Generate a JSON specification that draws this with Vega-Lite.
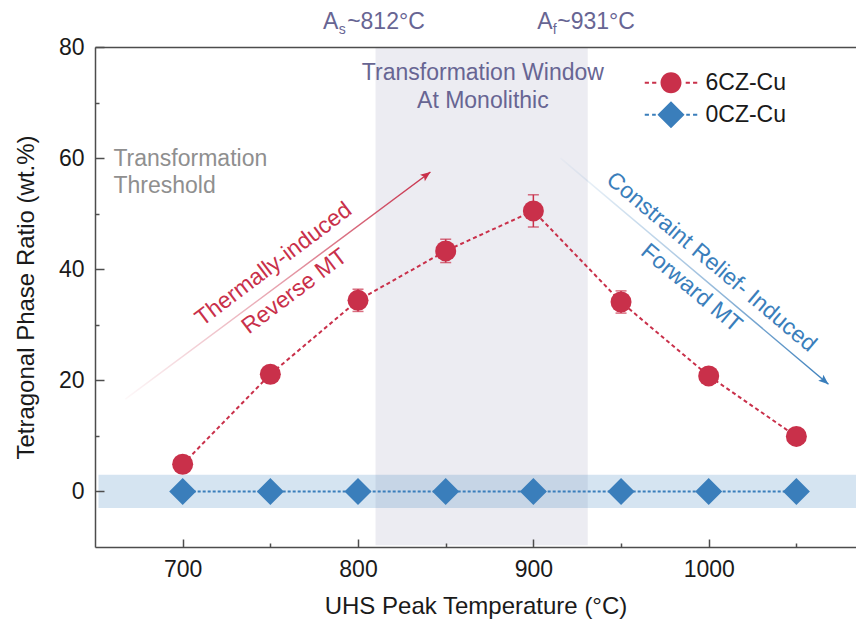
{
  "$schema": "https://vega.github.io/schema/vega-lite/v6.json",
  "width": 761,
  "height": 500,
  "autosize": {"type": "none"},
  "padding": {"left": 95, "top": 47, "right": 0, "bottom": 83},
  "background": "white",
  "config": {
    "view": {"stroke": null},
    "font": "Liberation Sans",
    "axis": {"domainColor": "#4d4d4d", "tickColor": "#4d4d4d", "domainWidth": 1.5, "tickWidth": 1.5, "labelColor": "#1a1a1a", "titleColor": "#1a1a1a", "labelFontSize": 23, "titleFontSize": 24, "titleFontWeight": "normal", "grid": false, "zindex": 1}
  },
  "datasets": {
    "pts": [
      {"series": "6CZ-Cu", "T": 700, "v": 4.9, "lo": 4.1, "hi": 5.7},
      {"series": "6CZ-Cu", "T": 750, "v": 21.1, "lo": 19.9, "hi": 22.3},
      {"series": "6CZ-Cu", "T": 800, "v": 34.4, "lo": 32.4, "hi": 36.4},
      {"series": "6CZ-Cu", "T": 850, "v": 43.3, "lo": 41.2, "hi": 45.4},
      {"series": "6CZ-Cu", "T": 900, "v": 50.5, "lo": 47.6, "hi": 53.4},
      {"series": "6CZ-Cu", "T": 950, "v": 34.1, "lo": 32.1, "hi": 36.1},
      {"series": "6CZ-Cu", "T": 1000, "v": 20.8, "lo": 19.8, "hi": 21.8},
      {"series": "6CZ-Cu", "T": 1050, "v": 9.9, "lo": 9.1, "hi": 10.7},
      {"series": "0CZ-Cu", "T": 700, "v": 0, "lo": 0, "hi": 0},
      {"series": "0CZ-Cu", "T": 750, "v": 0, "lo": 0, "hi": 0},
      {"series": "0CZ-Cu", "T": 800, "v": 0, "lo": 0, "hi": 0},
      {"series": "0CZ-Cu", "T": 850, "v": 0, "lo": 0, "hi": 0},
      {"series": "0CZ-Cu", "T": 900, "v": 0, "lo": 0, "hi": 0},
      {"series": "0CZ-Cu", "T": 950, "v": 0, "lo": 0, "hi": 0},
      {"series": "0CZ-Cu", "T": 1000, "v": 0, "lo": 0, "hi": 0},
      {"series": "0CZ-Cu", "T": 1050, "v": 0, "lo": 0, "hi": 0}
    ],
    "window": [{"x": 810, "x2": 931, "y": -9.7, "y2": 80}],
    "band": [{"x": 652, "x2": 1084, "y": -3, "y2": 3}],
    "arrowR": [{"x": 667.3, "y": 16.6}, {"x": 841.3, "y": 57.5}],
    "arrowB": [{"x": 915.5, "y": 60.0}, {"x": 1068.3, "y": 19.3}],
    "headR": [{"x": 841.3, "y": 57.5}],
    "headB": [{"x": 1068.3, "y": 19.3}],
    "winText": [{"x": 871.2, "y": 74.1, "t": "Transformation Window"}, {"x": 871.2, "y": 69.0, "t": "At Monolithic"}],
    "thrText": [{"x": 660.5, "y": 58.6, "t": "Transformation"}, {"x": 660.5, "y": 53.7, "t": "Threshold"}],
    "redText": [{"x": 751.8, "y": 40.9, "t": "Thermally-induced"}, {"x": 763.8, "y": 36.0, "t": "Reverse MT"}],
    "blueText": [{"x": 1001.5, "y": 41.3, "t": "Constraint Relief- Induced"}, {"x": 990.1, "y": 36.6, "t": "Forward MT"}],
    "topBig": [{"x": 780.1, "y": 83.2, "t": "A"}, {"x": 793.8, "y": 83.2, "t": "~812°C"}, {"x": 902.2, "y": 83.2, "t": "A"}, {"x": 913.6, "y": 83.2, "t": "~931°C"}],
    "topSub": [{"x": 789.0, "y": 82.4, "t": "s"}, {"x": 911.0, "y": 82.4, "t": "f"}]
  },
  "resolve": {"axis": {"x": "independent", "y": "independent"}},
  "layer": [
    {
      "data": {"name": "window"},
      "mark": {"type": "rect", "color": "#ececf2"},
      "encoding": {
        "x": {"field": "x", "type": "quantitative", "scale": {"domain": [650, 1084], "nice": false, "zero": false},
              "axis": {"orient": "bottom", "zindex": 1, "values": [700, 800, 900, 1000], "format": "d", "ticks": false, "labelPadding": 11, "title": "UHS Peak Temperature (°C)", "titlePadding": 13}},
        "x2": {"field": "x2"},
        "y": {"field": "y", "type": "quantitative", "scale": {"domain": [-10, 80], "nice": false, "zero": false},
              "axis": {"orient": "left", "zindex": 1, "values": [0, 20, 40, 60, 80], "format": "d", "ticks": false, "labelPadding": 11, "title": "Tetragonal Phase Ratio (wt.%)", "titlePadding": 20}},
        "y2": {"field": "y2"}
      }
    },
    {
      "data": {"name": "band"},
      "mark": {"type": "rect", "color": "#3a7fbb", "opacity": 0.21},
      "encoding": {
        "x": {"field": "x", "type": "quantitative", "axis": {"orient": "bottom", "zindex": 1, "values": [700, 800, 900, 1000], "tickSize": 8, "offset": -8, "labels": false, "domain": false, "title": null}},
        "x2": {"field": "x2"},
        "y": {"field": "y", "type": "quantitative", "axis": {"orient": "left", "zindex": 1, "values": [0, 20, 40, 60, 80], "tickSize": 9, "offset": -9, "labels": false, "domain": false, "title": null}},
        "y2": {"field": "y2"}
      }
    },
    {
      "mark": {"type": "rule", "color": "#a3a3a3", "strokeDash": [5, 3], "strokeWidth": 1.5},
      "encoding": {"y": {"datum": 51, "type": "quantitative", "axis": null}}
    },
    {
      "data": {"name": "pts"},
      "transform": [{"filter": "datum.series === '6CZ-Cu'"}],
      "mark": {"type": "line", "color": "#c9304a", "strokeDash": [4, 3], "strokeWidth": 2},
      "encoding": {
        "x": {"field": "T", "type": "quantitative", "axis": {"orient": "top", "zindex": 1, "ticks": false, "labels": false, "domain": true, "title": null}},
        "y": {"field": "v", "type": "quantitative", "axis": {"orient": "left", "zindex": 1, "values": [10, 30, 50, 70], "tickSize": 4, "offset": -4, "labels": false, "domain": false, "title": null}}
      }
    },
    {
      "data": {"name": "pts"},
      "transform": [{"filter": "datum.series === '0CZ-Cu'"}],
      "mark": {"type": "line", "color": "#3a7ebb", "strokeDash": [3, 2], "strokeWidth": 2},
      "encoding": {
        "x": {"field": "T", "type": "quantitative", "axis": {"orient": "bottom", "zindex": 1, "values": [750, 850, 950, 1050], "tickSize": 4, "offset": -4, "labels": false, "domain": false, "title": null}},
        "y": {"field": "v", "type": "quantitative", "axis": null}
      }
    },
    {
      "data": {"name": "arrowR"},
      "mark": {"type": "line", "strokeWidth": 1.5, "stroke": {"gradient": "linear", "x1": 0, "y1": 1, "x2": 1, "y2": 0, "stops": [{"offset": 0, "color": "rgba(201,48,74,0.03)"}, {"offset": 0.5, "color": "rgba(201,48,74,0.45)"}, {"offset": 1, "color": "rgba(201,48,74,1)"}]}},
      "encoding": {
        "x": {"field": "x", "type": "quantitative", "axis": null},
        "y": {"field": "y", "type": "quantitative", "axis": null}
      }
    },
    {
      "data": {"name": "arrowB"},
      "mark": {"type": "line", "strokeWidth": 1.5, "stroke": {"gradient": "linear", "x1": 0, "y1": 0, "x2": 1, "y2": 1, "stops": [{"offset": 0, "color": "rgba(58,126,187,0.03)"}, {"offset": 0.5, "color": "rgba(58,126,187,0.45)"}, {"offset": 1, "color": "rgba(58,126,187,1)"}]}},
      "encoding": {
        "x": {"field": "x", "type": "quantitative", "axis": null},
        "y": {"field": "y", "type": "quantitative", "axis": null}
      }
    },
    {
      "data": {"name": "headR"},
      "mark": {"type": "point", "filled": true, "opacity": 1, "color": "#c9304a", "size": 64, "angle": 53, "shape": "M0,0 L1,2.5 L0,2 L-1,2.5 Z"},
      "encoding": {
        "x": {"field": "x", "type": "quantitative", "axis": null},
        "y": {"field": "y", "type": "quantitative", "axis": null}
      }
    },
    {
      "data": {"name": "headB"},
      "mark": {"type": "point", "filled": true, "opacity": 1, "color": "#3a7ebb", "size": 64, "angle": 130, "shape": "M0,0 L1,2.5 L0,2 L-1,2.5 Z"},
      "encoding": {
        "x": {"field": "x", "type": "quantitative", "axis": null},
        "y": {"field": "y", "type": "quantitative", "axis": null}
      }
    },
    {
      "data": {"name": "pts"},
      "transform": [{"filter": "datum.series === '6CZ-Cu'"}],
      "mark": {"type": "errorbar", "color": "#c9304a", "thickness": 1.5, "ticks": {"size": 11, "thickness": 1.5, "color": "#c9304a"}},
      "encoding": {
        "x": {"field": "T", "type": "quantitative", "axis": null},
        "y": {"field": "lo", "type": "quantitative", "axis": null},
        "y2": {"field": "hi"}
      }
    },
    {
      "data": {"name": "pts"},
      "transform": [{"filter": "datum.series === '6CZ-Cu'"}],
      "mark": {"type": "point", "shape": "circle", "filled": true, "opacity": 1, "color": "#c9304a", "size": 441},
      "encoding": {
        "x": {"field": "T", "type": "quantitative", "axis": null},
        "y": {"field": "v", "type": "quantitative", "axis": null}
      }
    },
    {
      "data": {"name": "pts"},
      "transform": [{"filter": "datum.series === '0CZ-Cu'"}],
      "mark": {"type": "point", "shape": "diamond", "filled": true, "opacity": 1, "color": "#3a7ebb", "size": 729},
      "encoding": {
        "x": {"field": "T", "type": "quantitative", "axis": null},
        "y": {"field": "v", "type": "quantitative", "axis": null}
      }
    },
    {
      "data": {"name": "pts"},
      "mark": {"type": "point", "filled": true, "opacity": 0},
      "encoding": {
        "x": {"field": "T", "type": "quantitative", "axis": null},
        "y": {"field": "v", "type": "quantitative", "axis": null},
        "color": {"field": "series", "type": "nominal",
                  "scale": {"domain": ["6CZ-Cu", "0CZ-Cu"], "range": ["#c9304a", "#3a7ebb"]},
                  "legend": {"orient": "none", "legendX": 564.5, "legendY": 24.3, "title": null, "padding": 0, "symbolSize": 441, "symbolOpacity": 1, "symbolStrokeWidth": 0, "labelFontSize": 23, "labelColor": "#1a1a1a", "labelOffset": 23, "rowPadding": 5, "labelFont": "Liberation Sans"}},
        "shape": {"field": "series", "type": "nominal",
                  "scale": {"domain": ["6CZ-Cu", "0CZ-Cu"], "range": [
                    "M-1,0 A1,1 0 1,0 1,0 A1,1 0 1,0 -1,0 Z M-2.5,-0.09 H-2.1 V0.09 H-2.5 Z M-1.8,-0.09 H-1.4 V0.09 H-1.8 Z M1.4,-0.09 H1.8 V0.09 H1.4 Z M2.1,-0.09 H2.5 V0.09 H2.1 Z",
                    "M0,-1.29 L1.29,0 L0,1.29 L-1.29,0 Z M-2.5,-0.09 H-2.1 V0.09 H-2.5 Z M-1.8,-0.09 H-1.45 V0.09 H-1.8 Z M1.45,-0.09 H1.8 V0.09 H1.45 Z M2.1,-0.09 H2.5 V0.09 H2.1 Z"
                  ]},
                  "legend": {"orient": "none", "legendX": 564.5, "legendY": 24.3, "title": null, "padding": 0, "symbolSize": 441, "symbolOpacity": 1, "symbolStrokeWidth": 0, "labelFontSize": 23, "labelColor": "#1a1a1a", "labelOffset": 23, "rowPadding": 5, "labelFont": "Liberation Sans"}}
      }
    },
    {
      "data": {"name": "winText"},
      "mark": {"type": "text", "color": "#676593", "fontSize": 23, "align": "center", "baseline": "alphabetic"},
      "encoding": {
        "x": {"field": "x", "type": "quantitative", "axis": null},
        "y": {"field": "y", "type": "quantitative", "axis": null},
        "text": {"field": "t"}
      }
    },
    {
      "data": {"name": "thrText"},
      "mark": {"type": "text", "color": "#8f8f8f", "fontSize": 23, "align": "left", "baseline": "alphabetic"},
      "encoding": {
        "x": {"field": "x", "type": "quantitative", "axis": null},
        "y": {"field": "y", "type": "quantitative", "axis": null},
        "text": {"field": "t"}
      }
    },
    {
      "data": {"name": "redText"},
      "mark": {"type": "text", "color": "#c9304a", "fontSize": 23, "align": "center", "baseline": "middle", "angle": 323},
      "encoding": {
        "x": {"field": "x", "type": "quantitative", "axis": null},
        "y": {"field": "y", "type": "quantitative", "axis": null},
        "text": {"field": "t"}
      }
    },
    {
      "data": {"name": "blueText"},
      "mark": {"type": "text", "color": "#3a7ebb", "fontSize": 23, "align": "center", "baseline": "middle", "angle": 40},
      "encoding": {
        "x": {"field": "x", "type": "quantitative", "axis": null},
        "y": {"field": "y", "type": "quantitative", "axis": null},
        "text": {"field": "t"}
      }
    },
    {
      "data": {"name": "topBig"},
      "mark": {"type": "text", "color": "#676593", "fontSize": 23, "align": "left", "baseline": "alphabetic"},
      "encoding": {
        "x": {"field": "x", "type": "quantitative", "axis": null},
        "y": {"field": "y", "type": "quantitative", "axis": null},
        "text": {"field": "t"}
      }
    },
    {
      "data": {"name": "topSub"},
      "mark": {"type": "text", "color": "#676593", "fontSize": 14, "align": "left", "baseline": "alphabetic"},
      "encoding": {
        "x": {"field": "x", "type": "quantitative", "axis": null},
        "y": {"field": "y", "type": "quantitative", "axis": null},
        "text": {"field": "t"}
      }
    }
  ]
}
